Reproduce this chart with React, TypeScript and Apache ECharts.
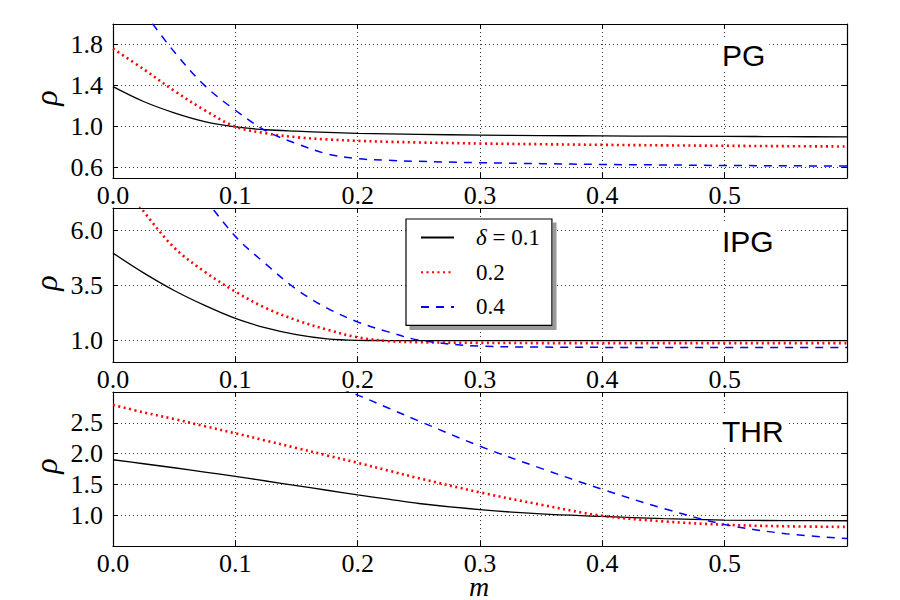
import React, { useEffect, useRef } from "react";
import * as echarts from "echarts";

// ---- data ----
const m = [0, 0.025, 0.05, 0.075, 0.1, 0.125, 0.15, 0.175, 0.2, 0.225, 0.25, 0.3, 0.35, 0.4, 0.45, 0.5, 0.55, 0.6];

const pgD01 = [1.39, 1.245, 1.135, 1.05, 0.998, 0.97, 0.956, 0.945, 0.935, 0.93, 0.925, 0.918, 0.913, 0.91, 0.907, 0.905, 0.903, 0.9];
const pgD02 = [1.76, 1.56, 1.35, 1.16, 1.0, 0.935, 0.897, 0.876, 0.862, 0.853, 0.846, 0.836, 0.829, 0.823, 0.818, 0.814, 0.81, 0.807];
const pgD04 = [null, 2.12, 1.73, 1.4, 1.16, 0.96, 0.835, 0.735, 0.688, 0.672, 0.662, 0.649, 0.64, 0.632, 0.627, 0.622, 0.619, 0.616];

const ipgD01 = [4.95, 4.05, 3.25, 2.57, 1.98, 1.55, 1.24, 1.05, 0.985, 0.975, 0.972, 0.97, 0.97, 0.97, 0.97, 0.97, 0.97, 0.97];
const ipgD02 = [8.7, 6.85, 5.2, 4.1, 3.2, 2.45, 1.9, 1.47, 1.12, 0.95, 0.9, 0.87, 0.86, 0.86, 0.86, 0.86, 0.86, 0.86];
const ipgD04 = [null, null, null, 7.45, 5.71, 4.45, 3.3, 2.45, 1.82, 1.37, 1.0, 0.72, 0.68, 0.665, 0.66, 0.66, 0.66, 0.66];

const thrD01 = [1.9, 1.835, 1.77, 1.7, 1.63, 1.555, 1.48, 1.405, 1.33, 1.26, 1.19, 1.09, 1.02, 0.98, 0.945, 0.92, 0.912, 0.91];
const thrD02 = [2.79, 2.67, 2.56, 2.445, 2.33, 2.21, 2.09, 1.97, 1.85, 1.725, 1.6, 1.37, 1.17, 0.99, 0.9, 0.845, 0.82, 0.81];
const thrD04 = [null, null, null, null, null, null, null, 3.13, 2.95, 2.74, 2.53, 2.12, 1.76, 1.42, 1.11, 0.85, 0.7, 0.62];

const deltaNames = ["0.1", "0.2", "0.4"];
const panelNames = ["PG", "IPG", "THR"];
const panelData = [
  [pgD01, pgD02, pgD04],
  [ipgD01, ipgD02, ipgD04],
  [thrD01, thrD02, thrD04],
];

const xTicks = [0, 0.1, 0.2, 0.3, 0.4, 0.5];
const xRange = [0, 0.6];
const yTicks = [
  [0.6, 1.0, 1.4, 1.8],
  [1.0, 3.5, 6.0],
  [1.0, 1.5, 2.0, 2.5],
];
const yRanges = [
  [0.5, 2.0],
  [0, 7],
  [0.5, 3.0],
];

// ---- layout / styles ----
const SERIF = "Liberation Serif";
const SANS = "Liberation Sans";
const gridTops = [24, 208, 392];
const gridLeft = 113;
const gridWidth = 734;
const gridHeight = 154;
const lineStyles = [
  { color: "#000000", width: 1.3, type: "solid" },
  { color: "#ff0000", width: 2.6, type: [2, 3.5] },
  { color: "#0000ff", width: 1.5, type: [8, 7] },
];
const panelLabelY = [55, 241, 431];
const rhoY = [98, 283, 466];

export default function App() {
  const ref = useRef<HTMLDivElement>(null);

  useEffect(() => {
    if (!ref.current) return;
    const chart = echarts.init(ref.current, undefined, { renderer: "svg" });

    const grids: any[] = [];
    const xAxes: any[] = [];
    const yAxes: any[] = [];
    const series: any[] = [];
    const graphics: any[] = [];

    const axisLine = { show: true, onZero: false, lineStyle: { color: "#000", width: 1.2 } };
    const tickStyle = { color: "#000", width: 1 };
    const splitStyle = { color: "#000", width: 0.8, type: [1, 3] };

    for (let p = 0; p < 3; p++) {
      grids.push({ left: gridLeft, top: gridTops[p], width: gridWidth, height: gridHeight, containLabel: false });
      xAxes.push({
        type: "value", gridIndex: p, min: xRange[0], max: xRange[1], position: "bottom",
        axisLine,
        axisTick: { show: true, inside: true, length: 5, customValues: xTicks, lineStyle: tickStyle },
        axisLabel: {
          show: true, customValues: xTicks, formatter: (v: number) => v.toFixed(1),
          fontFamily: SERIF, fontSize: 26, lineHeight: 18, color: "#000", margin: 8,
        },
        splitLine: { show: true, lineStyle: splitStyle },
      });
      xAxes.push({
        type: "value", gridIndex: p, min: xRange[0], max: xRange[1], position: "top",
        axisLine,
        axisTick: { show: true, inside: true, length: 5, customValues: xTicks, lineStyle: tickStyle },
        axisLabel: { show: false },
        splitLine: { show: false },
      });
      yAxes.push({
        type: "value", gridIndex: p, min: yRanges[p][0], max: yRanges[p][1], position: "left",
        axisLine,
        axisTick: { show: true, inside: true, length: 5, customValues: yTicks[p], lineStyle: tickStyle },
        axisLabel: {
          show: true, customValues: yTicks[p], formatter: (v: number) => v.toFixed(1),
          fontFamily: SERIF, fontSize: 26, color: "#000", margin: 10,
        },
        splitLine: { show: true, lineStyle: splitStyle },
      });
      yAxes.push({
        type: "value", gridIndex: p, min: yRanges[p][0], max: yRanges[p][1], position: "right",
        axisLine,
        axisTick: { show: true, inside: true, length: 5, customValues: yTicks[p], lineStyle: tickStyle },
        axisLabel: { show: false },
        splitLine: { show: false },
      });

      for (let s = 0; s < 3; s++) {
        const vals = panelData[p][s];
        series.push({
          type: "line",
          name: deltaNames[s],
          xAxisIndex: 2 * p,
          yAxisIndex: 2 * p,
          data: m.map((x, i) => [x, vals[i]]),
          showSymbol: false,
          symbol: "none",
          smooth: 0.35,
          connectNulls: false,
          clip: true,
          lineStyle: lineStyles[s],
          itemStyle: { color: lineStyles[s].color },
          z: 3,
        });
      }

      graphics.push({
        type: "text",
        x: 718,
        y: panelLabelY[p],
        z: 20,
        style: {
          text: panelNames[p],
          font: `30px ${SANS}`,
          fill: "#000",
          align: "left",
          verticalAlign: "middle",
          backgroundColor: "#fff",
          padding: [2, 4, 2, 4],
        },
      });
      graphics.push({
        type: "text",
        x: 45.5,
        y: rhoY[p],
        rotation: Math.PI / 2,
        style: {
          text: "ρ",
          font: `italic 32px ${SERIF}`,
          fill: "#000",
          align: "center",
          verticalAlign: "middle",
        },
      });
    }

    graphics.push({
      type: "text",
      x: 479,
      y: 586,
      style: {
        text: "m",
        font: `italic 28px ${SERIF}`,
        fill: "#000",
        align: "center",
        verticalAlign: "middle",
      },
    });

    chart.setOption({
      animation: false,
      backgroundColor: "#fff",
      grid: grids,
      xAxis: xAxes,
      yAxis: yAxes,
      series,
      legend: {
        data: deltaNames,
        orient: "vertical",
        left: 406,
        top: 219,
        padding: [7, 12, 7, 14],
        itemWidth: 33,
        itemHeight: 20,
        itemGap: 11.7,
        selectedMode: false,
        backgroundColor: "#fff",
        borderColor: "#000",
        borderWidth: 1.2,
        shadowColor: "#999",
        shadowBlur: 0,
        shadowOffsetX: 4,
        shadowOffsetY: 4,
        itemStyle: { opacity: 0 },
        formatter: (name: string) => (name === "0.1" ? "{i|δ} = 0.1" : name),
        textStyle: {
          fontFamily: SERIF,
          fontSize: 23,
          color: "#000",
          lineHeight: 20,
          padding: [0, 0, 0, 17],
          rich: {
            i: { fontFamily: SERIF, fontSize: 23, fontStyle: "italic", color: "#000" },
          },
        },
        z: 10,
      },
      graphic: graphics,
    });

    return () => chart.dispose();
  }, []);

  return (
    <div
      ref={ref}
      style={{ position: "absolute", left: 0, top: 0, width: 900, height: 600 }}
    />
  );
}
